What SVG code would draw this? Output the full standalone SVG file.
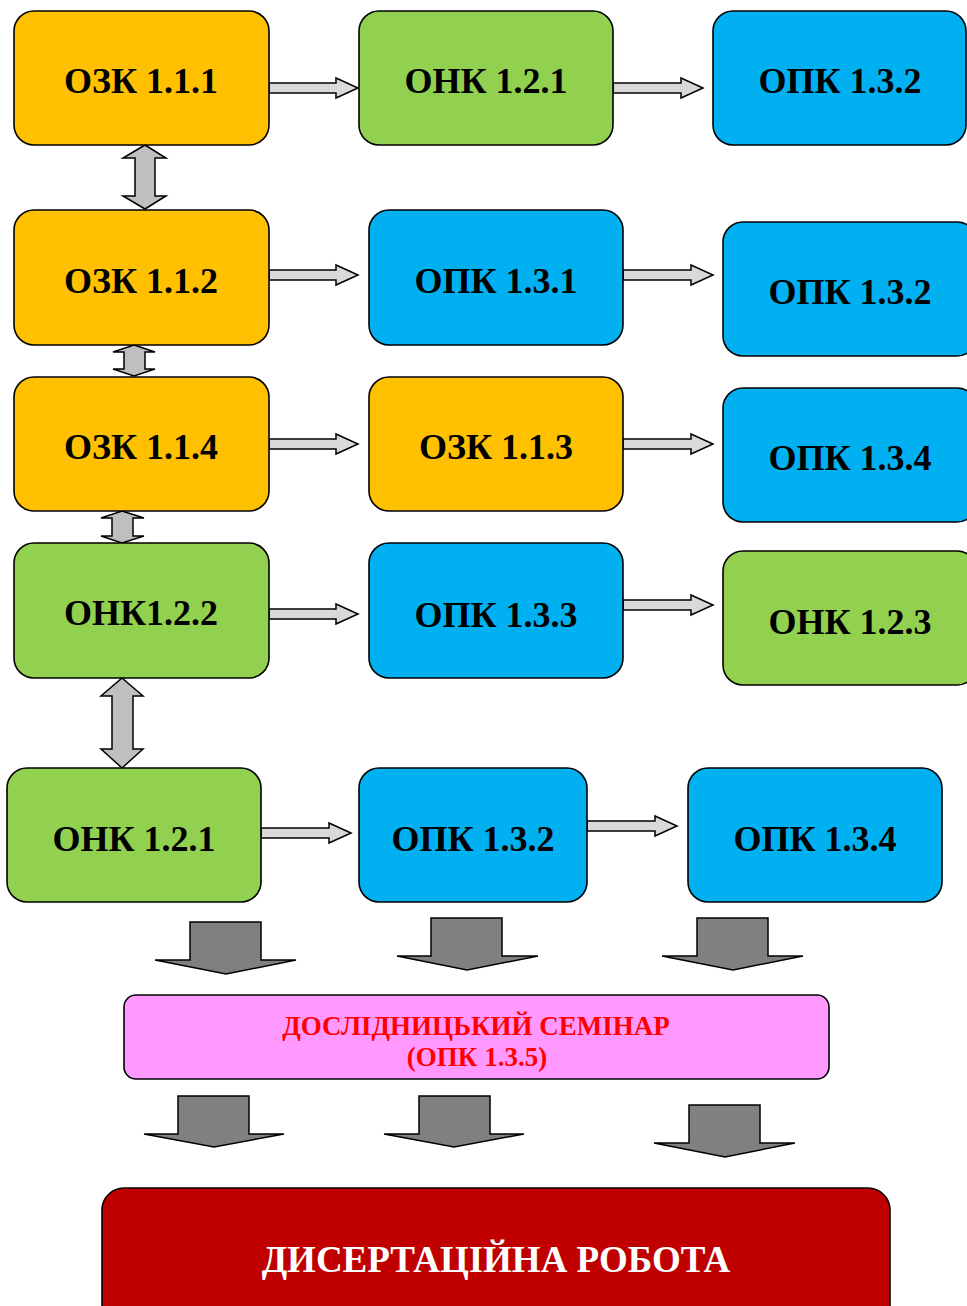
<svg xmlns="http://www.w3.org/2000/svg" width="967" height="1306" viewBox="0 0 967 1306">
<style>
.box{stroke:#000;stroke-width:1.6}
.o{fill:#FFC000}.g{fill:#92D050}.b{fill:#00B0F0}
.t{font-family:"Liberation Serif","Times New Roman",serif;font-weight:bold;font-size:36px;fill:#000;text-anchor:middle}
.ra{fill:#D9D9D9;stroke:#000;stroke-width:1.5;stroke-linejoin:miter}
.da{fill:#BFBFBF;stroke:#000;stroke-width:1.5}
.ba{fill:#808080;stroke:#000;stroke-width:1.5}
</style>
<rect width="967" height="1306" fill="#fff"/>
<g id="connectors">
<path class="ra" d="M269,83 H336 V78 L358,88 L336,98 V93 H269 Z"/>
<path class="ra" d="M613,83 H681 V78 L703,88 L681,98 V93 H613 Z"/>
<path class="ra" d="M269,270 H336 V265 L358,275 L336,285 V280 H269 Z"/>
<path class="ra" d="M623,270 H691 V265 L713,275 L691,285 V280 H623 Z"/>
<path class="ra" d="M269,439 H336 V434 L358,444 L336,454 V449 H269 Z"/>
<path class="ra" d="M623,439 H691 V434 L713,444 L691,454 V449 H623 Z"/>
<path class="ra" d="M269,609 H336 V604 L358,614 L336,624 V619 H269 Z"/>
<path class="ra" d="M623,600 H691 V595 L713,605 L691,615 V610 H623 Z"/>
<path class="ra" d="M261,828 H329 V823 L351,833 L329,843 V838 H261 Z"/>
<path class="ra" d="M587,821 H655 V816 L677,826 L655,836 V831 H587 Z"/>
<path class="da" d="M145,145 L166,158 H155 V196 H166 L145,209 L123,196 H135 V158 H123 Z"/>
<path class="da" d="M134,345 L155,352 H145 V369 H155 L134,376 L113,369 H124 V352 H113 Z"/>
<path class="da" d="M122,511 L144,518 H133 V536 H144 L122,543 L101,536 H112 V518 H101 Z"/>
<path class="da" d="M122,678 L143,696 H133 V749 H143 L122,768 L101,749 H112 V696 H101 Z"/>
<path class="ba" d="M190,922 H261 V960 H296 L226,974 L155,960 H190 Z"/>
<path class="ba" d="M431,918 H502 V956 H538 L467,970 L397,956 H431 Z"/>
<path class="ba" d="M697,918 H768 V956 H803 L733,970 L662,956 H697 Z"/>
<path class="ba" d="M178,1096 H249 V1134 H284 L214,1147 L144,1134 H178 Z"/>
<path class="ba" d="M419,1096 H490 V1134 H524 L454,1147 L384,1134 H419 Z"/>
<path class="ba" d="M689,1105 H760 V1143 H795 L725,1157 L654,1143 H689 Z"/>
</g>
<g id="n1"><rect class="box o" x="14" y="11" width="255" height="134" rx="20"/><text class="t" x="141" y="93">ОЗК 1.1.1</text></g>
<g id="n2"><rect class="box g" x="359" y="11" width="254" height="134" rx="20"/><text class="t" x="486" y="93">ОНК 1.2.1</text></g>
<g id="n3"><rect class="box b" x="713" y="11" width="253" height="134" rx="20"/><text class="t" x="840" y="93">ОПК 1.3.2</text></g>
<g id="n4"><rect class="box o" x="14" y="210" width="255" height="135" rx="20"/><text class="t" x="141" y="293">ОЗК 1.1.2</text></g>
<g id="n5"><rect class="box b" x="369" y="210" width="254" height="135" rx="20"/><text class="t" x="496" y="293">ОПК 1.3.1</text></g>
<g id="n6"><rect class="box b" x="723" y="222" width="254" height="134" rx="20"/><text class="t" x="850" y="304">ОПК 1.3.2</text></g>
<g id="n7"><rect class="box o" x="14" y="377" width="255" height="134" rx="20"/><text class="t" x="141" y="459">ОЗК 1.1.4</text></g>
<g id="n8"><rect class="box o" x="369" y="377" width="254" height="134" rx="20"/><text class="t" x="496" y="459">ОЗК 1.1.3</text></g>
<g id="n9"><rect class="box b" x="723" y="388" width="254" height="134" rx="20"/><text class="t" x="850" y="470">ОПК 1.3.4</text></g>
<g id="n10"><rect class="box g" x="14" y="543" width="255" height="135" rx="20"/><text class="t" x="141" y="625">ОНК1.2.2</text></g>
<g id="n11"><rect class="box b" x="369" y="543" width="254" height="135" rx="20"/><text class="t" x="496" y="627">ОПК 1.3.3</text></g>
<g id="n12"><rect class="box g" x="723" y="551" width="254" height="134" rx="20"/><text class="t" x="850" y="634">ОНК 1.2.3</text></g>
<g id="n13"><rect class="box g" x="7" y="768" width="254" height="134" rx="20"/><text class="t" x="134" y="851">ОНК 1.2.1</text></g>
<g id="n14"><rect class="box b" x="359" y="768" width="228" height="134" rx="20"/><text class="t" x="473" y="851">ОПК 1.3.2</text></g>
<g id="n15"><rect class="box b" x="688" y="768" width="254" height="134" rx="20"/><text class="t" x="815" y="851">ОПК 1.3.4</text></g>
<g id="seminar"><rect class="box" fill="#FF99FF" x="124" y="995" width="705" height="84" rx="12"/>
<text font-family="'Liberation Serif','Times New Roman',serif" font-weight="bold" font-size="27" fill="#FF0000" text-anchor="middle"><tspan x="476" y="1035">ДОСЛІДНИЦЬКИЙ СЕМІНАР</tspan><tspan x="477" y="1066">(ОПК 1.3.5)</tspan></text></g>
<g id="dissertation"><rect class="box" fill="#C00000" x="102" y="1188" width="788" height="140" rx="22"/>
<text font-family="'Liberation Serif','Times New Roman',serif" font-weight="bold" font-size="37" fill="#fff" text-anchor="middle" x="496" y="1272">ДИСЕРТАЦІЙНА РОБОТА</text></g>
</svg>
